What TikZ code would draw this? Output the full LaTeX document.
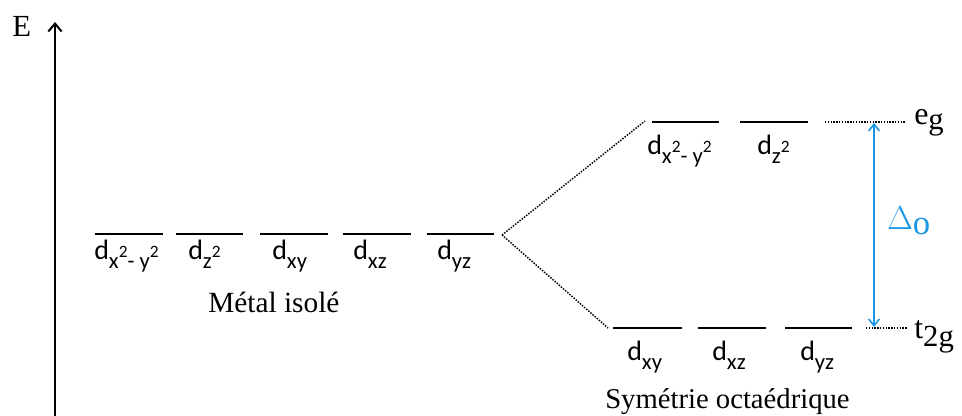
\documentclass[tikz,border=0pt]{standalone}
\usepackage{fontspec}
\setmainfont{Liberation Serif}
\newfontfamily\orbfont{Carlito}
\usetikzlibrary{positioning,arrows.meta,calc}
\definecolor{deltablue}{RGB}{25,150,230}
\newcommand{\orb}[1]{{\orbfont d\raisebox{-0.3em}{\fontsize{17}{17}\selectfont #1}}}
\newcommand{\sqr}{\raisebox{0.45em}{\fontsize{13}{13}\selectfont 2}}

\begin{document}
\begin{tikzpicture}[x=0.75pt,y=-0.75pt,
  level/.style={line width=1.5pt},
  corr/.style={densely dotted, line width=1.1pt},
  orblab/.style={font=\fontsize{21}{23}\selectfont, inner sep=0pt, anchor=north west},
  txt/.style={font=\fontsize{22}{24}\selectfont, inner sep=0pt, anchor=base west}]
\useasboundingbox (0,0) rectangle (962,416);
% energy axis
\coordinate (axbot) at (55,416);
\coordinate (axtop) at (55,22);
\draw[line width=1.5pt,-{Straight Barb[length=6pt,width=10pt]}] (axbot) -- (axtop);
\node[txt,font=\fontsize{23}{26}\selectfont] (E) at (12,37) {E};
% free metal ion: five degenerate levels
\foreach \xa/\xb/\n in {95/163/1,176/243/2,260/328/3,343/411/4,427/494/5}{
  \draw[level] (\xa,234) coordinate (f\n l) -- (\xb,234) coordinate (f\n r);
}
\node[orblab] (fl1) at (94,240) {\orb{x\sqr- y\sqr}};
\node[orblab] (fl2) at (188,240) {\orb{z\sqr}};
\node[orblab] (fl3) at (272,240) {\orb{xy}};
\node[orblab] (fl4) at (353,240) {\orb{xz}};
\node[orblab] (fl5) at (437,240) {\orb{yz}};
\node[txt] (free) at (208,312) {Métal isolé};
% octahedral field: e_g above, t_2g below
\foreach \xa/\xb/\n in {652/719/1,740/808/2}{
  \draw[level] (\xa,122) coordinate (e\n l) -- (\xb,122) coordinate (e\n r);
}
\foreach \xa/\xb/\n in {613/682/1,698/766/2,785/852/3}{
  \draw[level] (\xa,328) coordinate (t\n l) -- (\xb,328) coordinate (t\n r);
}
\node[orblab] (el1) at (647,135) {\orb{x\sqr- y\sqr}};
\node[orblab] (el2) at (757,135) {\orb{z\sqr}};
\node[orblab] (tl1) at (627,341) {\orb{xy}};
\node[orblab] (tl2) at (712,341) {\orb{xz}};
\node[orblab] (tl3) at (800,341) {\orb{yz}};
\node[txt,font=\fontsize{21.5}{24}\selectfont] (oct) at (605,408) {Symétrie octaédrique};
% correlation lines
\coordinate (split) at (502,235);
\coordinate (egL) at (645,121);
\coordinate (t2L) at (608,328);
\draw[corr] (split) -- (egL);
\draw[corr] (split) -- (t2L);
\coordinate (egA) at (825,122);
\coordinate (egB) at (906,122);
\coordinate (t2A) at (866,328);
\coordinate (t2B) at (907,328);
\draw[corr] (egA) -- (egB);
\draw[corr] (t2A) -- (t2B);
\node[txt,font=\fontsize{24}{26}\selectfont] (eg) at (914,125) {e\textsubscript{\fontsize{23}{23}\selectfont g}};
\node[txt,font=\fontsize{24}{26}\selectfont] (t2g) at (914,338) {t\textsubscript{\fontsize{23}{23}\selectfont 2g}};
% splitting energy
\coordinate (egD) at (874,123);
\coordinate (t2D) at (874,327);
\draw[deltablue,line width=1.2pt,{Straight Barb[length=5pt,width=8pt]}-{Straight Barb[length=5pt,width=8pt]}] (egD) -- (t2D);
\node[txt,deltablue,font=\fontsize{28}{30}\selectfont] (delta) at (887,230) {$\Delta$\textsubscript{\fontsize{26}{26}\selectfont o}};
\end{tikzpicture}
\end{document}
